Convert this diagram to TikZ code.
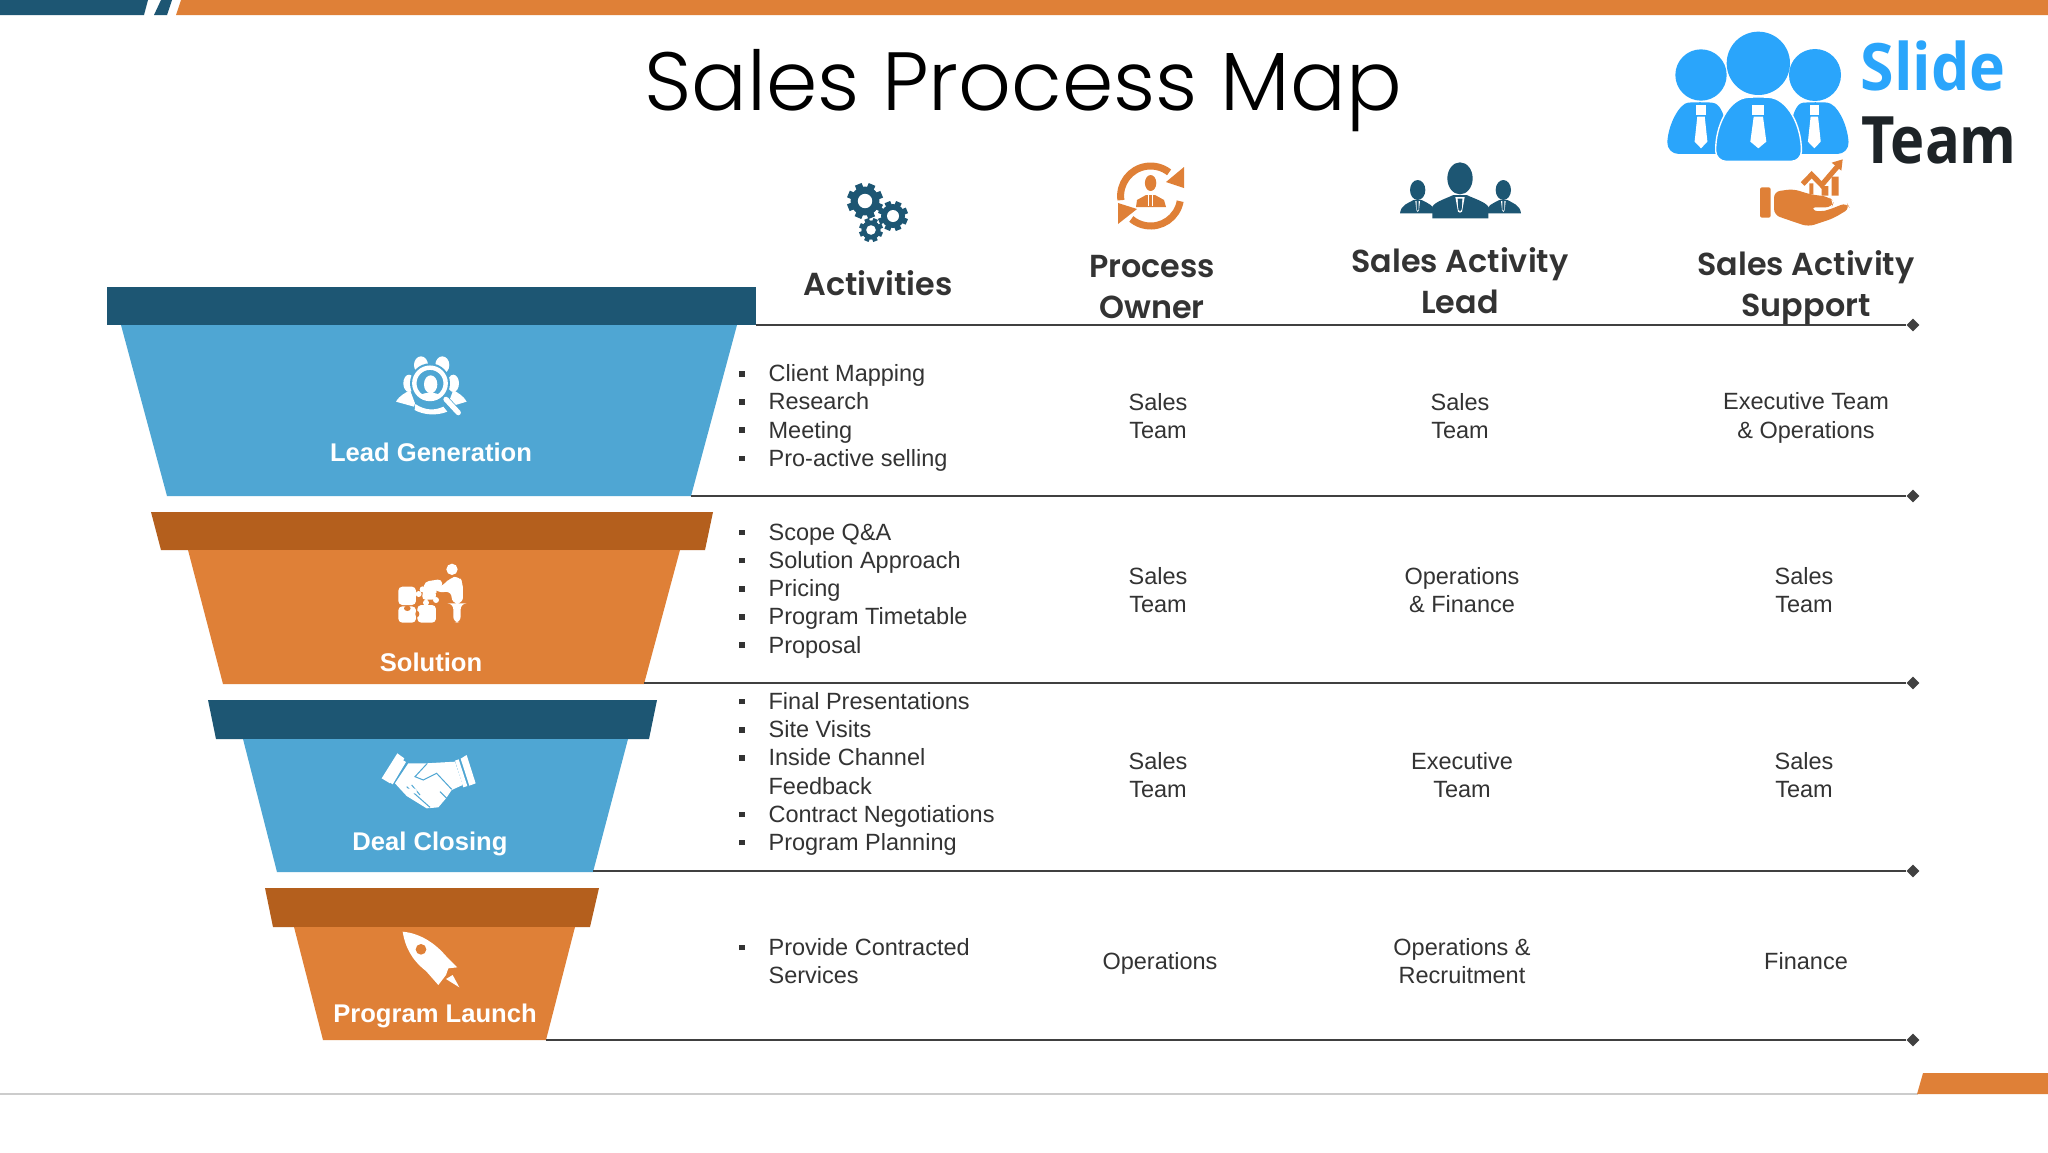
\documentclass[tikz,border=0pt]{standalone}
\usepackage{fontspec}
\setmainfont{Liberation Sans}
\newfontfamily\titlefont{Poppins Light}
\newfontfamily\headfont{Poppins SemiBold}
\newfontfamily\logofont{Open Sans}
\usetikzlibrary{shapes.geometric}
\definecolor{navy}{HTML}{1D5673}
\definecolor{sky}{HTML}{4FA6D3}
\definecolor{amber}{HTML}{DF8037}
\definecolor{rust}{HTML}{B45F1D}
\definecolor{logoblue}{HTML}{2AA5FB}
\definecolor{logodark}{HTML}{1D2327}
\definecolor{rulegrey}{HTML}{404040}
\definecolor{txt}{HTML}{333333}
\tikzset{
  x=0.5pt,y=-0.5pt,
  cell/.style={font=\fontsize{11.75}{14.1}\selectfont,text=txt,align=center,inner sep=0},
  bul/.style={font=\fontsize{11.75}{14.1}\selectfont,text=txt,align=left,anchor=west,inner sep=0},
  stage/.style={font=\bfseries\fontsize{12.8}{15}\selectfont,text=white,inner sep=0},
  head/.style={font=\headfont\fontsize{15.9}{20.6}\selectfont,text=txt,align=center,inner sep=0},
  rowline/.style={draw=rulegrey,line width=0.9pt},
  endmark/.style={diamond,fill=rulegrey,inner sep=0,minimum size=6.5pt},
  startpt/.style={inner sep=0,minimum size=0},
  ic/.style={shift={(#1)},scale=0.3333},
}
\newcommand{\gearshape}[4]{% x y r colour
  \fill[#4] (#1,#2) circle[radius=#3*0.8];
  \foreach \a in {0,45,...,315}{
    \fill[#4,rotate around={\a+22:(#1,#2)}] (#1-#3*0.2,#2) rectangle (#1+#3*0.2,#2-#3);
  }
  \fill[white] (#1,#2) circle[radius=#3*0.4];
}
\newcommand{\bulit}[1]{\makebox[14.6pt][l]{\raisebox{2.6pt}{\rule{2.8pt}{2.8pt}}}#1}
\newcommand{\cont}{\hspace*{14.6pt}}
\begin{document}
\begin{tikzpicture}
\useasboundingbox (0,0) rectangle (2048,1152);
\fill[white] (0,0) rectangle (2048,1152);
% top and bottom bars
\fill[navy] (0,0) -- (148,0) -- (144,15) -- (0,15) -- cycle;
\fill[navy] (161,0) -- (172,0) -- (167,15) -- (154,15) -- cycle;
\fill[amber] (181,0) -- (2048,0) -- (2048,15) -- (176,15) -- cycle;
\draw[draw=black!20,line width=0.6pt] (0,1094) -- (1918,1094);
\fill[amber] (1923,1073) -- (2048,1073) -- (2048,1094) -- (1917,1094) -- cycle;
% title
\node[font=\titlefont\fontsize{41.3}{50}\selectfont,text=black,inner sep=0] (title) at (1023,91) {Sales Process Map};
% funnel
\fill[navy] (107,287) rectangle (756,325);
\fill[sky] (121,325) -- (737,325) -- (691,496) -- (167,496) -- cycle;
\fill[rust] (151,512) -- (713,512) -- (705,550) -- (161,550) -- cycle;
\fill[amber] (188,550) -- (680,550) -- (644,684) -- (223,684) -- cycle;
\fill[navy] (208,700) -- (657,700) -- (649,739) -- (216,739) -- cycle;
\fill[sky] (243,739) -- (628,739) -- (593,872) -- (277,872) -- cycle;
\fill[rust] (265,888) -- (599,888) -- (590,927) -- (273,927) -- cycle;
\fill[amber] (294,927) -- (575,927) -- (546,1040) -- (323,1040) -- cycle;
\node[stage] (s1) at (431,452) {Lead Generation};
\node[stage] (s2) at (431,662) {Solution};
\node[stage] (s3) at (430,844) {Deal Closing};
\node[stage] (s4) at (435,1016) {Program Launch};
% rules
\foreach \n/\x/\y in {a/756/325,b/691/496,c/644/683,d/593/871,e/546/1040}{
  \node[startpt] (\n0) at (\x,\y) {};
  \node[endmark] (\n1) at (1913,\y) {};
  \draw[rowline] (\n0) -- (\n1);
}
% headers
\node[head] (h1) at (878,283) {Activities};
\node[head] (h2) at (1152,287) {Process\\Owner};
\node[head] (h3) at (1460,281) {Sales Activity\\Lead};
\node[head] (h4) at (1806,288) {Sales Activity\\Support};
% activities
\node[bul] (r1) at (739,418) {\bulit{Client Mapping}\\\bulit{Research}\\\bulit{Meeting}\\\bulit{Pro-active selling}};
\node[bul] (r2) at (739,591) {\bulit{Scope Q\&A}\\\bulit{Solution Approach}\\\bulit{Pricing}\\\bulit{Program Timetable}\\\bulit{Proposal}};
\node[bul] (r3) at (739,774) {\bulit{Final Presentations}\\\bulit{Site Visits}\\\bulit{Inside Channel}\\\cont Feedback\\\bulit{Contract Negotiations}\\\bulit{Program Planning}};
\node[bul] (r4) at (739,961) {\bulit{Provide Contracted}\\\cont Services};
% cells
\node[cell] (c11) at (1158,416) {Sales\\Team};
\node[cell] (c12) at (1460,416) {Sales\\Team};
\node[cell] (c13) at (1806,418) {Executive Team\\\&~Operations};
\node[cell] (c21) at (1158,590) {Sales\\Team};
\node[cell] (c22) at (1462,590) {Operations\\\&~Finance};
\node[cell] (c23) at (1804,590) {Sales\\Team};
\node[cell] (c31) at (1158,775) {Sales\\Team};
\node[cell] (c32) at (1462,775) {Executive\\Team};
\node[cell] (c33) at (1804,775) {Sales\\Team};
\node[cell] (c41) at (1160,963) {Operations};
\node[cell] (c42) at (1462,961) {Operations \&\\Recruitment};
\node[cell] (c43) at (1806,961) {Finance};
% gears icon
\gearshape{865}{201}{18}{navy}
\gearshape{893}{216}{15}{navy}
\gearshape{871}{230}{12}{navy}
% process owner icon
\draw[amber,line width=3.5pt] (1150.6,196) ++(-188:30) arc[start angle=-188,end angle=-52,radius=30];
\fill[amber] (1184,167) -- (1184,188) -- (1166,182) -- cycle;
\draw[amber,line width=3.5pt] (1150.6,196) ++(10:30) arc[start angle=10,end angle=130,radius=30];
\fill[amber] (1118,203) -- (1118,224) -- (1137,209) -- cycle;
\fill[amber] (1150.6,183) ellipse[x radius=5.7,y radius=8];
\fill[amber] (1136,207) -- (1137,200) -- (1146,195) -- (1155,195) -- (1164,200) -- (1166,207) -- cycle;
\draw[white,line width=0.5pt] (1148.5,194) -- (1148.5,206) (1152.7,194) -- (1152.7,206);
% sales lead icon
\begin{scope}[ic={1380,150}]
\foreach \cx in {113,370}{
  \fill[navy] (\cx,120) ellipse[x radius=23,y radius=30];
  \fill[navy] (\cx-53,190) .. controls (\cx-50,165) and (\cx-30,160) .. (\cx-12,150) -- (\cx+12,150) .. controls (\cx+30,160) and (\cx+50,165) .. (\cx+53,190) -- cycle;
  \fill[white] (\cx-7,153) -- (\cx+7,153) -- (\cx+4,180) -- (\cx,186) -- (\cx-4,180) -- cycle;
  \fill[navy] (\cx-3,153) -- (\cx+3,153) -- (\cx+3,178) -- (\cx,182) -- (\cx-3,178) -- cycle;
}
\fill[navy] (240,85) ellipse[x radius=38,y radius=48];
\fill[navy] (157,205) -- (157,170) .. controls (165,155) and (200,145) .. (220,135) -- (260,135) .. controls (280,145) and (315,155) .. (325,170) -- (325,205) -- cycle;
\fill[white] (226,141) -- (254,141) -- (246,185) -- (240,188) -- (234,185) -- cycle;
\fill[navy] (233,146) -- (247,146) -- (245,178) -- (240,184) -- (235,178) -- cycle;
\end{scope}
% sales support icon
\begin{scope}[ic={1750,150}]
\fill[amber,rounded corners=1pt] (30,112) rectangle (62,203);
\fill[amber,rounded corners=3pt] (72,125) -- (130,117) -- (180,133) -- (235,140) -- (252,155) -- (245,172) -- (180,172) .. controls (200,185) and (225,182) .. (240,178) -- (290,158) -- (300,175) -- (250,205) -- (175,230) -- (130,215) -- (72,195) -- cycle;
\fill[amber] (178,100) rectangle (190,133) (215,108) rectangle (235,137) (245,80) rectangle (266,137);
\draw[amber,line width=2.6pt] (158,102) -- (185,74) -- (215,105) -- (262,50);
\fill[amber] (278,28) -- (274,62) -- (245,38) -- cycle;
\end{scope}
% lead generation icon
\begin{scope}[ic={340,340}]
\fill[white] (243,75) ellipse[x radius=21,y radius=26];
\fill[white] (307,75) ellipse[x radius=21,y radius=26];
\fill[white] (207,130) ellipse[x radius=17,y radius=26];
\fill[white] (340,130) ellipse[x radius=17,y radius=26];
\fill[white] (168,185) .. controls (180,165) and (195,160) .. (210,150) -- (225,190) -- (222,200) -- cycle;
\fill[white] (380,185) .. controls (368,165) and (355,160) .. (340,150) -- (325,190) -- (330,200) -- cycle;
\fill[sky] (270,130) circle[radius=60];
\fill[white] (226,192) .. controls (255,212) and (285,212) .. (310,200) -- (322,215) .. controls (290,228) and (250,225) .. (224,210) -- cycle;
\draw[white,line width=2.2pt] (270,130) circle[radius=47];
\draw[sky,line width=3.8pt] (316,178) -- (355,220);
\draw[white,line width=2.6pt,line cap=round] (318,178) -- (355,218);
\fill[white] (272,133) ellipse[x radius=20,y radius=27];
\fill[white] (238,168) .. controls (250,155) and (290,155) .. (304,168) .. controls (290,180) and (250,180) .. (238,168) -- cycle;
\end{scope}
% solution icon
\begin{scope}[ic={340,550}]
\fill[white] (336,58) circle[radius=17];
\fill[white,rounded corners=3pt] (328,84) -- (358,78) -- (369,100) -- (369,160) -- (362,160) -- (362,218) -- (340,218) -- (340,160) -- (335,160) -- (335,124) -- (290,128) -- (282,115) -- (312,106) -- cycle;
\fill[white,rounded corners=2pt] (175,110) rectangle (228,165);
\fill[white,rounded corners=2pt] (175,169) rectangle (228,218);
\fill[white,rounded corners=2pt] (232,165) rectangle (288,218);
\fill[white,rounded corners=2pt] (254,95) -- (305,87) -- (308,112) -- (285,118) -- (290,148) -- (245,150) -- cycle;
\fill[white] (236,132) circle[radius=9] (248,118) circle[radius=9] (288,150) circle[radius=9] (258,158) circle[radius=9];
\fill[amber] (202,175) ellipse[x radius=10,y radius=8];
\fill[amber] (232,192) ellipse[x radius=6,y radius=9];
\end{scope}
% handshake icon
\begin{scope}[ic={340,730}]
\fill[white] (125,145) -- (172,70) -- (193,85) -- (150,160) -- cycle;
\fill[white] (185,88) -- (198,96) -- (158,163) -- (146,155) -- cycle;
\fill[white] (345,92) -- (356,88) -- (382,168) -- (370,172) -- cycle;
\fill[white] (362,86) -- (380,75) -- (407,160) -- (388,167) -- cycle;
\fill[white] (205,100) -- (258,100) -- (345,95) -- (368,165) -- (335,180) -- (318,205) -- (295,232) -- (260,235) -- (200,198) -- (165,160) -- cycle;
\draw[sky,line width=0.5pt] (262,100) -- (225,140) -- (250,150) -- (290,130) -- (335,178);
\draw[sky,line width=0.5pt] (200,170) -- (270,232) (215,165) -- (240,195) (300,185) -- (320,205);
\fill[white] (215,183) ellipse[x radius=16,y radius=9];
\end{scope}
% rocket icon
\begin{scope}[ic={340,900}]
\fill[white] (188,95) .. controls (245,100) and (290,135) .. (318,168) -- (352,202) -- (325,205) -- (318,225) -- (295,255) -- (258,213) .. controls (215,180) and (195,140) .. (188,95) -- cycle;
\fill[amber] (243,148) circle[radius=16];
\fill[white] (358,262) -- (318,237) -- (338,225) -- cycle;
\end{scope}
% logo
\begin{scope}[ic={1640,0}]
\fill[logoblue,rounded corners=6pt] (80,462) .. controls (85,370) and (120,310) .. (180,305) .. controls (240,310) and (250,340) .. (262,400) -- (262,462) -- cycle;
\fill[logoblue,rounded corners=6pt] (628,462) .. controls (622,370) and (590,310) .. (525,305) .. controls (470,310) and (460,340) .. (448,400) -- (448,462) -- cycle;
\fill[logoblue] (183,225) circle[radius=77];
\fill[logoblue] (525,225) circle[radius=78];
\fill[logoblue] (355,190) circle[radius=95];
\fill[logoblue,draw=white,line width=0.7pt,rounded corners=5pt] (228,484) .. controls (225,380) and (265,295) .. (355,290) .. controls (445,295) and (485,380) .. (484,484) -- cycle;
\foreach \cx/\s in {183/0.8,523/0.8,355/1}{
  \begin{scope}[shift={(\cx,0)},xscale=\s]
  \fill[white] (-18,316) rectangle (18,345);
  \fill[white] (-14,350) -- (14,350) -- (24,425) -- (0,445) -- (-24,425) -- cycle;
  \end{scope}
}
\end{scope}
\node[font=\logofont\bfseries\fontsize{32.7}{36}\selectfont,text=logoblue,inner sep=0,xscale=0.93] (logo1) at (1933,66) {Slide};
\node[font=\logofont\bfseries\fontsize{32.7}{36}\selectfont,text=logodark,inner sep=0,xscale=0.885] (logo2) at (1939,140) {Team};
\end{tikzpicture}
\end{document}
